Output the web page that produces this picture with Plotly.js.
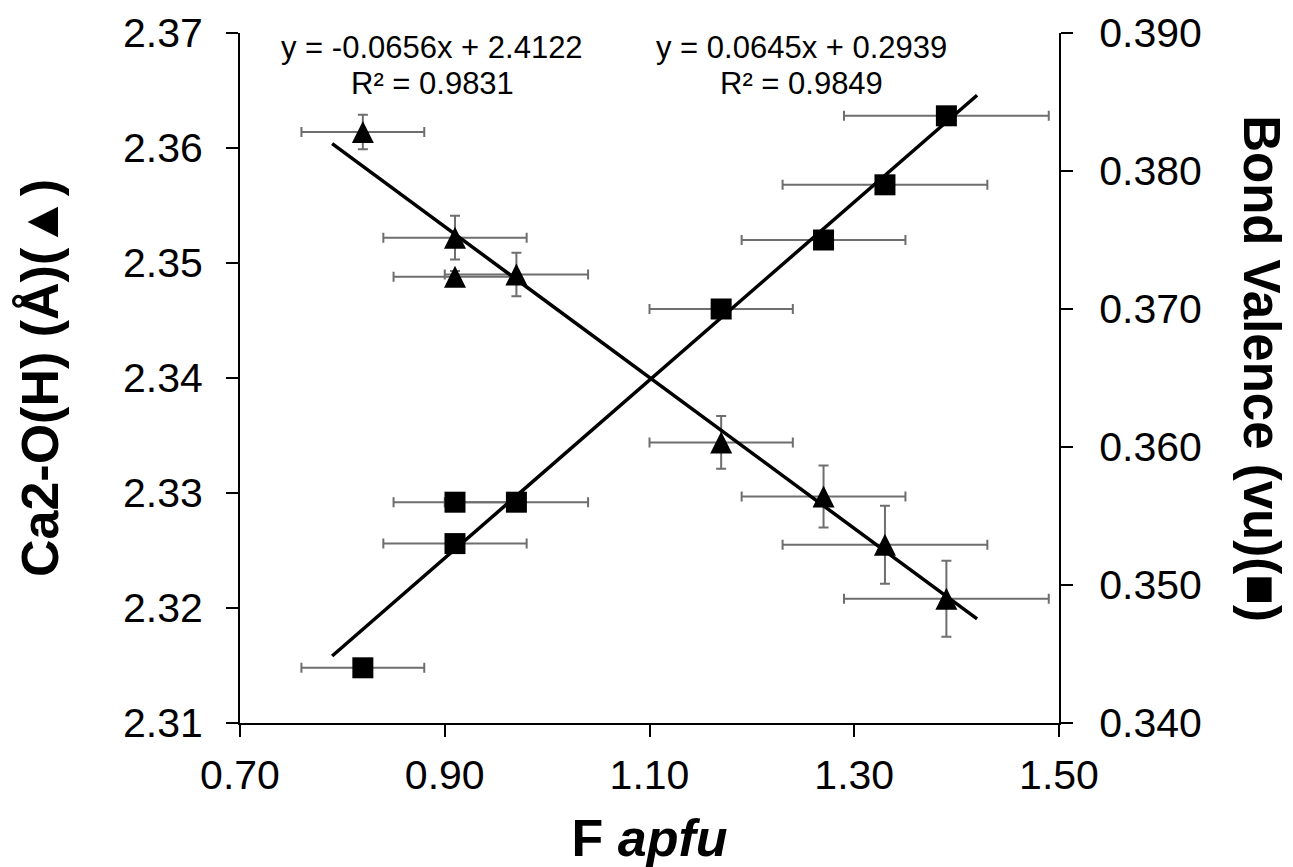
<!DOCTYPE html>
<html>
<head>
<meta charset="utf-8">
<script src="https://cdn.plot.ly/plotly-3.0.1.min.js"></script>
<style>html,body{margin:0;padding:0;background:#fff;}#chart{width:1293px;height:867px;}</style>
</head>
<body>
<div id="chart"></div>
<script>
// ---- data ----
const fTri = [0.82, 0.91, 0.91, 0.97, 1.17, 1.27, 1.33, 1.39];
const fTriErr = [0.06, 0.07, 0.06, 0.07, 0.07, 0.08, 0.10, 0.10];
const ca2O = [2.3614, 2.3522, 2.3488, 2.3490, 2.3344, 2.3297, 2.3255, 2.3208];
const ca2OErr = [0.0015, 0.0019, 0.0005, 0.0019, 0.0023, 0.0027, 0.0034, 0.0033];

const fSq = [0.82, 0.91, 0.91, 0.97, 1.17, 1.27, 1.33, 1.39];
const fSqErr = [0.06, 0.07, 0.06, 0.07, 0.07, 0.08, 0.10, 0.10];
const bondValence = [0.344, 0.353, 0.356, 0.356, 0.370, 0.375, 0.379, 0.384];

const trendX = [0.79, 1.42];
const triSlope = -0.0656, triIntercept = 2.4122, triR2 = '0.9831';
const sqSlope = 0.0645, sqIntercept = 0.2939, sqR2 = '0.9849';

const xTicks = [0.70, 0.90, 1.10, 1.30, 1.50];
const yTicks = [2.31, 2.32, 2.33, 2.34, 2.35, 2.36, 2.37];
const y2Ticks = [0.340, 0.350, 0.360, 0.370, 0.380, 0.390];

// ---- style ----
const FONT = 'Liberation Sans, Arial, sans-serif';
const ERR_COLOR = '#6e6e6e';

const triTrendY = trendX.map(x => triSlope * x + triIntercept);
const sqTrendY = trendX.map(x => sqSlope * x + sqIntercept);

const traces = [
  {
    x: fTri, y: ca2O, type: 'scatter', mode: 'markers', yaxis: 'y', name: 'Ca2-O(H)',
    marker: {symbol: 'arrow-down', angle: 180, standoff: 11, size: 22, color: '#000'},
    error_x: {type: 'data', array: fTriErr, visible: true, color: ERR_COLOR, thickness: 2, width: 5},
    error_y: {type: 'data', array: ca2OErr, visible: true, color: ERR_COLOR, thickness: 2, width: 5}
  },
  {
    x: fSq, y: bondValence, type: 'scatter', mode: 'markers', yaxis: 'y2', name: 'Bond Valence',
    marker: {symbol: 'square', size: 21, color: '#000'},
    error_x: {type: 'data', array: fSqErr, visible: true, color: ERR_COLOR, thickness: 2, width: 5}
  },
  {
    x: trendX, y: triTrendY, type: 'scatter', mode: 'lines', yaxis: 'y',
    line: {color: '#000', width: 3.5}, hoverinfo: 'skip'
  },
  {
    x: trendX, y: sqTrendY, type: 'scatter', mode: 'lines', yaxis: 'y2',
    line: {color: '#000', width: 3.5}, hoverinfo: 'skip'
  }
];

function fmtEq(m, b) {
  return 'y = ' + m.toFixed(4) + 'x + ' + b.toFixed(4);
}

const L = 240, R = 1059, T = 33, B = 722.7;
const px = v => (v - L) / (R - L);
const py = v => (B - v) / (B - T);

const annFont = {family: FONT, size: 31, color: '#000'};
const layout = {
  width: 1293, height: 867,
  margin: {l: L, r: 1293 - R, t: T, b: 867 - B, pad: 0},
  paper_bgcolor: '#fff', plot_bgcolor: '#fff',
  showlegend: false,
  font: {family: FONT, color: '#000'},
  xaxis: {
    range: [0.70, 1.50], tickvals: xTicks, ticktext: xTicks.map(v => v.toFixed(2)),
    showgrid: false, zeroline: false, showline: true, linecolor: '#000', linewidth: 2,
    ticks: 'outside', ticklen: 12, tickwidth: 2, tickcolor: '#000',
    ticklabelstandoff: 3,
    tickfont: {family: FONT, size: 41, color: '#000'},
    title: {text: '<b>F <i>apfu</i></b>', font: {family: FONT, size: 52, color: '#000'}, standoff: 26}
  },
  yaxis: {
    range: [2.31, 2.37], tickvals: yTicks, ticktext: yTicks.map(v => v.toFixed(2)),
    showgrid: false, zeroline: false, showline: true, linecolor: '#000', linewidth: 2,
    ticks: 'outside', ticklen: 12, tickwidth: 2, tickcolor: '#000',
    ticklabelstandoff: 15,
    tickfont: {family: FONT, size: 41, color: '#000'},
    title: {text: '<b>Ca2-O(H) (Å)(▲)</b>', font: {family: FONT, size: 52, color: '#000'}, standoff: 48}
  },
  yaxis2: {
    range: [0.340, 0.390], tickvals: y2Ticks, ticktext: y2Ticks.map(v => v.toFixed(3)),
    overlaying: 'y', side: 'right',
    showgrid: false, zeroline: false, showline: true, linecolor: '#000', linewidth: 2,
    ticks: 'outside', ticklen: 12, tickwidth: 2, tickcolor: '#000',
    ticklabelstandoff: 18,
    tickfont: {family: FONT, size: 41, color: '#000'}
  },
  annotations: [
    {xref: 'paper', yref: 'paper', x: px(432), y: py(47), text: fmtEq(triSlope, triIntercept),
     showarrow: false, xanchor: 'center', yanchor: 'middle', font: annFont},
    {xref: 'paper', yref: 'paper', x: px(432), y: py(83), text: 'R² = ' + triR2,
     showarrow: false, xanchor: 'center', yanchor: 'middle', font: annFont},
    {xref: 'paper', yref: 'paper', x: px(801), y: py(47), text: fmtEq(sqSlope, sqIntercept),
     showarrow: false, xanchor: 'center', yanchor: 'middle', font: annFont},
    {xref: 'paper', yref: 'paper', x: px(801), y: py(83), text: 'R² = ' + sqR2,
     showarrow: false, xanchor: 'center', yanchor: 'middle', font: annFont},
    {xref: 'paper', yref: 'paper', x: px(1262), y: py(368), text: '<b>Bond Valence (vu)(■)</b>',
     textangle: 90, showarrow: false, xanchor: 'center', yanchor: 'middle',
     font: {family: FONT, size: 51, color: '#000'}}
  ]
};

Plotly.newPlot('chart', traces, layout, {displayModeBar: false, staticPlot: true});
</script>
</body>
</html>
